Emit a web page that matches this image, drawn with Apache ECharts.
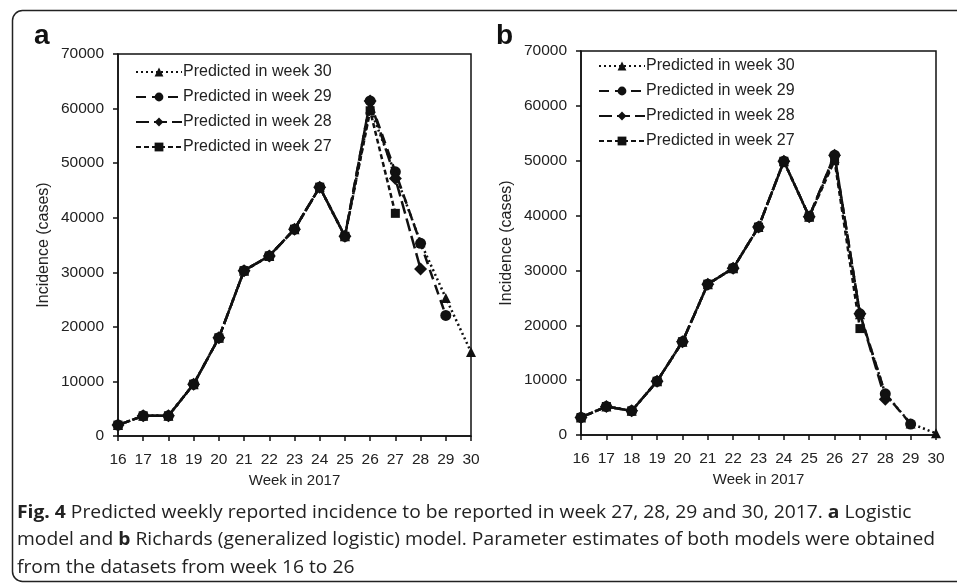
<!doctype html>
<html>
<head>
<meta charset="UTF-8">
<title>Fig. 4</title>
<script src="https://cdn.jsdelivr.net/npm/echarts@6/dist/echarts.min.js"></script>
<style>
  html, body { margin: 0; padding: 0; background: #fff; }
  #chart { width: 957px; height: 583px; }
</style>
</head>
<body>
<div id="chart"></div>
<script>
// weeks in 2017
var weeks = [16, 17, 18, 19, 20, 21, 22, 23, 24, 25, 26, 27, 28, 29, 30];
var seriesNames = ['Predicted in week 30', 'Predicted in week 29', 'Predicted in week 28', 'Predicted in week 27'];

// panel a - logistic model
var a_w30 = [2000, 3700, 3700, 9500, 18000, 30300, 33000, 37900, 45600, 36600, 60000, 48000, 35500, 25300, 15400];
var a_w29 = [2000, 3700, 3700, 9500, 18000, 30300, 33000, 37900, 45600, 36600, 61400, 48400, 35300, 22100];
var a_w28 = [2000, 3700, 3700, 9500, 18000, 30300, 33000, 37900, 45600, 36600, 61400, 47200, 30600];
var a_w27 = [2000, 3700, 3700, 9500, 18000, 30300, 33000, 37900, 45600, 36600, 59600, 40800];

// panel b - Richards model
var b_w30 = [3200, 5200, 4400, 9800, 17000, 27500, 30400, 37900, 49900, 39800, 50500, 22000, 7500, 2100, 300];
var b_w29 = [3200, 5200, 4400, 9800, 17000, 27500, 30400, 37900, 49900, 39800, 51000, 22100, 7500, 2000];
var b_w28 = [3200, 5200, 4400, 9800, 17000, 27500, 30400, 37900, 49900, 39800, 51000, 22100, 6500];
var b_w27 = [3200, 5200, 4400, 9800, 17000, 27500, 30400, 37900, 49900, 39800, 50000, 19400];

var symbols = ['triangle', 'circle', 'diamond', 'rect'];
var symbolSizes = [10, 11, 13, 9];
var dashes = [[2, 3], [10, 6], [13, 5], [5, 3]];

var FONT = 'Liberation Sans, Arial, sans-serif';
var CAP_FONT = 'Open Sans';

function pairs(vals) {
  return vals.map(function (v, i) { return [weeks[i], v]; });
}

function makeSeries(list, idx) {
  return list.map(function (vals, k) {
    return {
      name: seriesNames[k],
      type: 'line',
      xAxisIndex: idx,
      yAxisIndex: idx,
      data: pairs(vals),
      symbol: symbols[k],
      symbolSize: symbolSizes[k],
      itemStyle: { color: '#111' },
      lineStyle: { color: '#111', width: 2.5, type: dashes[k] },
      z: 10 - k
    };
  });
}

var axisFont = { color: '#222', fontSize: 15.5, fontFamily: FONT };

function xAx(idx) {
  return {
    type: 'value', gridIndex: idx, min: 16, max: 30, interval: 1,
    name: 'Week in 2017', nameLocation: 'middle', nameGap: 35,
    nameTextStyle: { color: '#222', fontSize: 15, fontFamily: FONT },
    axisLine: { lineStyle: { color: '#111', width: 1.5 } },
    axisTick: { show: true, length: 5, lineStyle: { color: '#111', width: 1.5 } },
    axisLabel: Object.assign({ margin: 16 }, axisFont),
    splitLine: { show: false }
  };
}

function yAx(idx) {
  return {
    type: 'value', gridIndex: idx, min: 0, max: 70000, interval: 10000,
    name: 'Incidence (cases)', nameLocation: 'middle', nameGap: 66,
    nameTextStyle: { color: '#222', fontSize: 16, fontFamily: FONT },
    axisLine: { show: true, lineStyle: { color: '#111', width: 1.5 } },
    axisTick: { show: true, length: 5, lineStyle: { color: '#111', width: 1.5 } },
    axisLabel: Object.assign({ margin: 14, formatter: function (v) { return String(v); } }, axisFont),
    splitLine: { show: false }
  };
}

function legendAt(left, top) {
  return {
    data: seriesNames,
    orient: 'vertical',
    left: left, top: top,
    itemWidth: 46, itemHeight: 11, itemGap: 9,
    textStyle: { color: '#222', fontSize: 16, lineHeight: 16, fontFamily: FONT, padding: [0, 0, 0, -4] },
    selectedMode: false
  };
}

// caption: squeeze the humanist font so both long lines fit the panel width
var ctx = document.createElement('canvas').getContext('2d');
function capWidth(parts) {
  var w = 0;
  parts.forEach(function (p) {
    ctx.font = (p[1] ? 'bold ' : '') + '18px "' + CAP_FONT + '"';
    w += ctx.measureText(p[0]).width;
  });
  return w;
}
var w1 = capWidth([['Fig. 4', 1], [' Predicted weekly reported incidence to be reported in week 27, 28, 29 and 30, 2017. ', 0], ['a', 1], [' Logistic', 0]]);
var w2 = capWidth([['model and ', 0], ['b', 1], [' Richards (generalized logistic) model. Parameter estimates of both models were obtained', 0]]);
var capScale = Math.min(921 / w1, 918 / w2);

var chart = echarts.init(document.getElementById('chart'));

var option = {
  backgroundColor: '#fff',
  animation: false,
  grid: [
    { left: 118, right: 486, top: 54, bottom: 147, show: true, borderColor: '#111', borderWidth: 1.5 },
    { left: 581, right: 21, top: 51, bottom: 148, show: true, borderColor: '#111', borderWidth: 1.5 }
  ],
  xAxis: [xAx(0), xAx(1)],
  yAxis: [yAx(0), yAx(1)],
  legend: [legendAt(130, 59), legendAt(593, 53)],
  series: makeSeries([a_w30, a_w29, a_w28, a_w27], 0).concat(makeSeries([b_w30, b_w29, b_w28, b_w27], 1)),
  graphic: [
    { type: 'rect', left: 10, top: 8, shape: { width: 1000, height: 571, r: 10 },
      style: { fill: 'none', stroke: '#222', lineWidth: 1.5 }, silent: true },
    { type: 'text', left: 34, top: 22, style: { text: 'a', fontSize: 28, fontWeight: 'bold', fill: '#111', fontFamily: FONT } },
    { type: 'text', left: 496, top: 22, style: { text: 'b', fontSize: 28, fontWeight: 'bold', fill: '#111', fontFamily: FONT } },
    { type: 'text', x: 17, y: 499, scaleX: capScale, style: {
      text: '{b|Fig. 4} Predicted weekly reported incidence to be reported in week 27, 28, 29 and 30, 2017. {b|a} Logistic\n' +
            'model and {b|b} Richards (generalized logistic) model. Parameter estimates of both models were obtained\n' +
            'from the datasets from week 16 to 26',
      fontSize: 18, lineHeight: 27.5, fill: '#222', fontFamily: CAP_FONT,
      rich: { b: { fontWeight: 'bold', fontSize: 18, fill: '#222', fontFamily: CAP_FONT } }
    } }
  ]
};

chart.setOption(option);
</script>
</body>
</html>
